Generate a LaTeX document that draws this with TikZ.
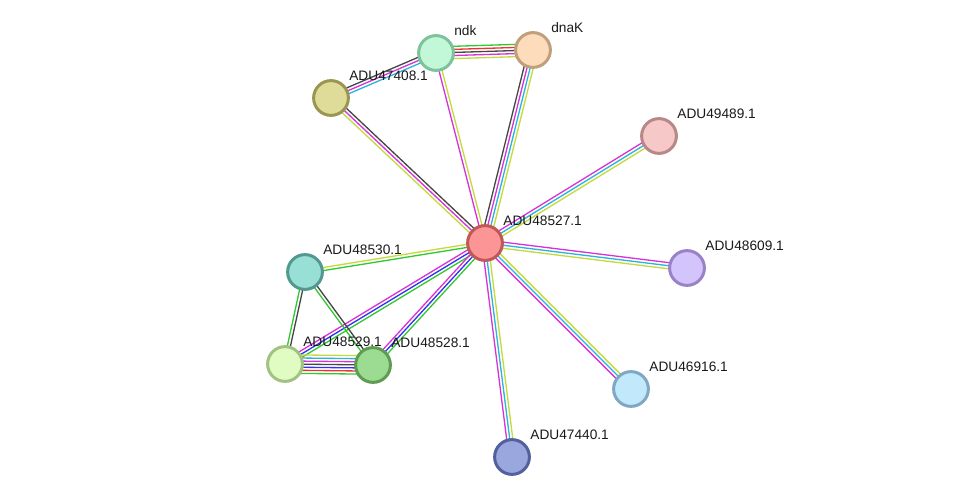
\documentclass[tikz,border=0pt]{standalone}
\usepackage{fontspec}
\setmainfont{Liberation Sans}
\usetikzlibrary{calc,backgrounds}

% evidence colours
\definecolor{eGreen}{RGB}{50,200,50}
\definecolor{eRed}{RGB}{240,50,50}
\definecolor{eBlue}{RGB}{50,50,240}
\definecolor{eBlack}{RGB}{70,70,70}
\definecolor{eMagenta}{RGB}{215,50,215}
\definecolor{eCyan}{RGB}{40,180,220}
\definecolor{eYellow}{RGB}{195,218,60}

% node colours
\definecolor{fctr}{HTML}{FC9696}  \definecolor{dctr}{HTML}{C05858}
\definecolor{fndk}{HTML}{C2F8D8}  \definecolor{dndk}{HTML}{7EC29C}
\definecolor{fdnak}{HTML}{FCDCBA} \definecolor{ddnak}{HTML}{C0A07C}
\definecolor{fa408}{HTML}{DEDC98} \definecolor{da408}{HTML}{9A9652}
\definecolor{fa489}{HTML}{F6C8C8} \definecolor{da489}{HTML}{B88888}
\definecolor{fa609}{HTML}{D4C4FC} \definecolor{da609}{HTML}{9A82C8}
\definecolor{fa916}{HTML}{C2E8FC} \definecolor{da916}{HTML}{80A8C2}
\definecolor{fa440}{HTML}{9AA6DE} \definecolor{da440}{HTML}{52609E}
\definecolor{fa530}{HTML}{98E0D6} \definecolor{da530}{HTML}{52988E}
\definecolor{fa529}{HTML}{E0FCC2} \definecolor{da529}{HTML}{A2C282}
\definecolor{fa528}{HTML}{9CDC92} \definecolor{da528}{HTML}{5E9C52}

% parallel evidence lines between two nodes: from, to, count, colours
\newcommand{\linkedge}[4]{%
  \foreach \col [count=\k] in {#4} {
    \pgfmathsetmacro{\off}{((#3+1)/2-\k)*1.75}
    \draw[evline, \col] ($(#1.center)!\off pt!90:(#2.center)$)
      -- ($(#2.center)!\off pt!-90:(#1.center)$);
  }}

\begin{document}
\begin{tikzpicture}[x=0.02cm, y=-0.02cm,
  prot/.style={circle, line width=1.7pt, minimum size=19.8pt, inner sep=0pt},
  lbl/.style={anchor=west, inner sep=0pt, text=black!90,
    font=\fontsize{7.8}{9}\selectfont},
  evline/.style={line width=0.75pt}]

\useasboundingbox (0,0) rectangle (976,502);

\foreach \n/\x/\y/\lab in {ctr/485/243/ADU48527.1, ndk/436/53/ndk,
    dnak/533/50/dnaK, a408/331/98/ADU47408.1, a489/659/136/ADU49489.1,
    a609/687/268/ADU48609.1, a916/631/389/ADU46916.1,
    a440/512/457/ADU47440.1, a530/305/272/ADU48530.1,
    a529/285/364/ADU48529.1, a528/373/365/ADU48528.1} {
  \node[prot, fill=f\n, draw=d\n] (\n) at (\x,\y) {};
  \node[lbl] (l\n) at (\x+18,\y-22) {\lab};
}

\begin{scope}[on background layer]
  \linkedge{ndk}{dnak}{5}{eGreen,eRed,eBlack,eMagenta,eYellow}
  \linkedge{a408}{ndk}{3}{eBlack,eMagenta,eCyan}
  \linkedge{a408}{ctr}{3}{eBlack,eMagenta,eYellow}
  \linkedge{ndk}{ctr}{2}{eYellow,eMagenta}
  \linkedge{dnak}{ctr}{4}{eYellow,eCyan,eMagenta,eBlack}
  \linkedge{ctr}{a489}{3}{eMagenta,eCyan,eYellow}
  \linkedge{ctr}{a609}{3}{eMagenta,eCyan,eYellow}
  \linkedge{ctr}{a916}{3}{eYellow,eCyan,eMagenta}
  \linkedge{ctr}{a440}{3}{eYellow,eCyan,eMagenta}
  \linkedge{a530}{ctr}{2}{eYellow,eGreen}
  \linkedge{a529}{ctr}{3}{eMagenta,eBlue,eGreen}
  \linkedge{a528}{ctr}{3}{eMagenta,eBlue,eGreen}
  \linkedge{a530}{a529}{2}{eBlack,eGreen}
  \linkedge{a530}{a528}{2}{eBlack,eGreen}
  \linkedge{a529}{a528}{7}{eYellow,eCyan,eMagenta,eBlack,eBlue,eRed,eGreen}
\end{scope}

\end{tikzpicture}
\end{document}
